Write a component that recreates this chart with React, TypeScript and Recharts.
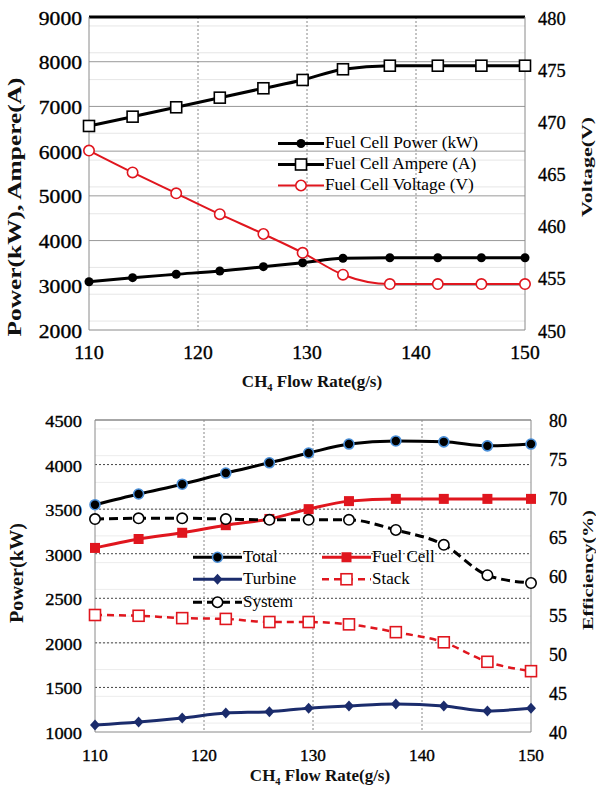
import React from 'react';
import {
  ComposedChart,
  Line,
  XAxis,
  YAxis,
  CartesianGrid,
  ReferenceLine,
  Legend,
} from 'recharts';

// CH4 flow rate (g/s) – shared x values
const flowRates = [110, 114, 118, 122, 126, 129.6, 133.3, 137.6, 142, 146, 150];

// top chart
const fcPower = [3080, 3170, 3246, 3320, 3416, 3505, 3604, 3617, 3617, 3617, 3617];
const fcAmpere = [6563, 6771, 6981, 7196, 7406, 7592, 7831, 7911, 7911, 7911, 7911];
const fcVoltage = [467.2, 465.1, 463.1, 461.1, 459.2, 457.4, 455.3, 454.4, 454.4, 454.4, 454.4];

// bottom chart
const totalPower = [3550, 3670, 3780, 3905, 4020, 4130, 4230, 4265, 4255, 4210, 4230];
const fuelCellPower = [3065, 3165, 3235, 3320, 3390, 3500, 3590, 3615, 3615, 3615, 3615];
const turbinePower = [1078, 1112, 1157, 1213, 1228, 1267, 1292, 1314, 1292, 1236, 1267];
const systemEff = [67.3, 67.4, 67.4, 67.3, 67.2, 67.2, 67.2, 65.9, 64.0, 60.1, 59.1];
const stackEff = [55.0, 54.9, 54.6, 54.5, 54.1, 54.1, 53.8, 52.8, 51.5, 49.0, 47.8];

const xTicks = [110, 120, 130, 140, 150];
const topLeftTicks = [2000, 3000, 4000, 5000, 6000, 7000, 8000, 9000];
const topRightTicks = [450, 455, 460, 465, 470, 475, 480];
const botLeftTicks = [1000, 1500, 2000, 2500, 3000, 3500, 4000, 4500];
const botRightTicks = [40, 45, 50, 55, 60, 65, 70, 75, 80];

const topData = flowRates.map((x, i) => ({
  x,
  power: fcPower[i],
  ampere: fcAmpere[i],
  voltage: fcVoltage[i],
}));

const botData = flowRates.map((x, i) => ({
  x,
  total: totalPower[i],
  fuelCell: fuelCellPower[i],
  turbine: turbinePower[i],
  system: systemEff[i],
  stack: stackEff[i],
}));

const RED = '#e0161e';
const NAVY = '#1b2c6c';
const SERIF = 'Liberation Serif, DejaVu Serif, serif';

type MarkerKind = 'dot' | 'square' | 'ring' | 'fsquare' | 'diamond' | 'bluedot';

const Marker = ({ kind, cx, cy, color }: { kind: MarkerKind; cx: number; cy: number; color: string }) => {
  switch (kind) {
    case 'dot':
      return <circle cx={cx} cy={cy} r={4.5} fill={color} />;
    case 'bluedot':
      return <circle cx={cx} cy={cy} r={5} fill="#000" stroke="#4a8fd8" strokeWidth={1.6} />;
    case 'square':
      return <rect x={cx - 5.5} y={cy - 5.5} width={11} height={11} fill="#fff" stroke={color} strokeWidth={1.6} />;
    case 'fsquare':
      return <rect x={cx - 5} y={cy - 5} width={10} height={10} fill={color} />;
    case 'ring':
      return <circle cx={cx} cy={cy} r={5.2} fill="#fff" stroke={color} strokeWidth={1.6} />;
    case 'diamond':
      return <path d={`M${cx},${cy - 5.5}L${cx + 5},${cy}L${cx},${cy + 5.5}L${cx - 5},${cy}Z`} fill={color} />;
  }
  return null;
};

const dotFn = (kind: MarkerKind, color: string) => (p: any) => (
  <Marker key={`m-${p.index}`} kind={kind} cx={p.cx} cy={p.cy} color={color} />
);

type Series = {
  key: string;
  name: string;
  color: string;
  width: number;
  dash?: string;
  marker: MarkerKind;
  axis: 'left' | 'right';
};

const topSeries: Series[] = [
  { key: 'power', name: 'Fuel Cell Power (kW)', color: '#000', width: 3, marker: 'dot', axis: 'left' },
  { key: 'ampere', name: 'Fuel Cell Ampere (A)', color: '#000', width: 3, marker: 'square', axis: 'left' },
  { key: 'voltage', name: 'Fuel Cell Voltage (V)', color: RED, width: 2, marker: 'ring', axis: 'right' },
];

// legend order (two columns): Total, Fuel Cell / Turbine, Stack / System
const botSeries: Series[] = [
  { key: 'total', name: 'Total', color: '#000', width: 3, marker: 'bluedot', axis: 'left' },
  { key: 'fuelCell', name: 'Fuel Cell', color: RED, width: 3, marker: 'fsquare', axis: 'left' },
  { key: 'turbine', name: 'Turbine', color: NAVY, width: 3, marker: 'diamond', axis: 'left' },
  { key: 'stack', name: 'Stack', color: RED, width: 2.5, dash: '7 5', marker: 'square', axis: 'right' },
  { key: 'system', name: 'System', color: '#000', width: 3, dash: '9 5', marker: 'ring', axis: 'right' },
];

const makeTick = (anchor: 'start' | 'end' | 'middle', size: number, digitW: number, dx: number, dy: number) =>
  (p: any) => {
    const s = String(p.payload.value);
    return (
      <text
        x={p.x + dx}
        y={p.y + dy}
        textAnchor={anchor}
        dominantBaseline="central"
        fontFamily={SERIF}
        fontSize={size}
        fill="#000"
        stroke="#000"
        strokeWidth={0.35}
        textLength={s.length * digitW}
        lengthAdjust="spacingAndGlyphs"
      >
        {s}
      </text>
    );
  };

const LegendBox = ({ series, cols, rowH, lineW, fontSize }: { series: Series[]; cols: number; rowH: number; lineW: number; fontSize: number }) => (
  <div
    style={{
      display: 'grid',
      gridTemplateColumns: `repeat(${cols}, auto)`,
      justifyContent: 'start',
      fontFamily: SERIF,
      fontSize,
      color: '#000',
    }}
  >
    {series.map((s) => (
      <div key={s.key} style={{ display: 'flex', alignItems: 'center', height: rowH, width: cols > 1 ? 129 : undefined }}>
        <svg width={lineW} height={rowH} style={{ display: 'block' }}>
          <line x1={0} x2={lineW} y1={rowH / 2} y2={rowH / 2} stroke={s.color} strokeWidth={s.width} strokeDasharray={s.dash} />
          <Marker kind={s.marker} cx={lineW / 2} cy={rowH / 2} color={s.color} />
        </svg>
        <span style={{ marginLeft: 1, whiteSpace: 'nowrap' }}>{s.name}</span>
      </div>
    ))}
  </div>
);

const FlowLabel = ({ cx, y }: { cx: number; y: number }) => (
  <text x={cx} y={y} textAnchor="middle" fontFamily={SERIF} fontWeight="bold" fontSize={17} fill="#111">
    CH<tspan fontSize={10.5} dy={4}>4</tspan>
    <tspan dy={-4}> Flow Rate(g/s)</tspan>
  </text>
);

const VTitle = ({ x, y, len, text, size = 18 }: { x: number; y: number; len: number; text: string; size?: number }) => (
  <text
    transform={`translate(${x},${y}) rotate(-90)`}
    textAnchor="middle"
    dominantBaseline="central"
    fontFamily={SERIF}
    fontWeight="bold"
    fontSize={size}
    fill="#111"
    textLength={len}
    lengthAdjust="spacingAndGlyphs"
  >
    {text}
  </text>
);

const minor = (lo: number, hi: number, step: number) => {
  const out: number[] = [];
  for (let v = lo; v <= hi; v += step) out.push(v);
  return out;
};

const App: React.FC = () => {
  return (
    <div style={{ position: 'absolute', left: 0, top: 0, width: 596, height: 798, background: '#fff', overflow: 'hidden' }}>
      {/* top chart */}
      <div style={{ position: 'absolute', left: 0, top: 0 }}>
        <ComposedChart width={596} height={410} data={topData} margin={{ top: 17, right: 0, bottom: 0, left: 0 }}>
          <CartesianGrid yAxisId="left" vertical={false} horizontalValues={minor(2200, 8800, 200)} stroke="#e6e6e6" />
          <CartesianGrid yAxisId="left" vertical={false} horizontalValues={[3000, 4000, 5000, 6000, 7000, 8000]} stroke="#9a9a9a" />
          <CartesianGrid yAxisId="left" horizontal={false} verticalValues={[120, 130, 140]} stroke="#888" strokeDasharray="2 2" />
          <XAxis
            dataKey="x"
            type="number"
            domain={[110, 150]}
            ticks={xTicks}
            height={80}
            tickLine={false}
            axisLine={{ stroke: '#8a8a8a' }}
            tick={makeTick('middle', 19, 9.8, 0, 14)}
          />
          <YAxis
            yAxisId="left"
            domain={[2000, 9000]}
            ticks={topLeftTicks}
            width={89}
            tickLine={false}
            axisLine={{ stroke: '#8a8a8a' }}
            tick={makeTick('end', 19, 10.8, 1, 1)}
          />
          <YAxis
            yAxisId="right"
            orientation="right"
            domain={[450, 480]}
            ticks={topRightTicks}
            width={71}
            tickLine={false}
            axisLine={{ stroke: '#8a8a8a' }}
            tick={makeTick('start', 19, 9.2, 5, 1)}
          />
          <ReferenceLine yAxisId="left" y={9000} stroke="#000" strokeWidth={3} />
          {topSeries.map((s) => (
            <Line
              key={s.key}
              yAxisId={s.axis}
              dataKey={s.key}
              name={s.name}
              type="monotone"
              stroke={s.color}
              strokeWidth={s.width}
              strokeDasharray={s.dash}
              dot={dotFn(s.marker, s.color)}
              activeDot={false}
              isAnimationActive={false}
            />
          ))}
          <Legend
            layout="vertical"
            align="center"
            verticalAlign="middle"
            wrapperStyle={{ left: 278, top: 132.5, width: 230 }}
            content={() => <LegendBox series={topSeries} cols={1} rowH={21} lineW={46} fontSize={17.3} />}
          />
        </ComposedChart>
      </div>

      {/* bottom chart */}
      <div style={{ position: 'absolute', left: 0, top: 410 }}>
        <ComposedChart width={596} height={388} data={botData} margin={{ top: 10, right: 0, bottom: 0, left: 0 }}>
          <CartesianGrid yAxisId="left" vertical={false} horizontalValues={minor(1100, 4400, 100)} stroke="#ececec" />
          <CartesianGrid yAxisId="left" vertical={false} horizontalValues={[1500, 2000, 2500, 3000, 3500, 4000]} stroke="#444" strokeDasharray="2 2" />
          <CartesianGrid yAxisId="left" horizontal={false} verticalValues={[120, 130, 140]} stroke="#888" strokeDasharray="2 2" />
          <XAxis
            dataKey="x"
            type="number"
            domain={[110, 150]}
            ticks={xTicks}
            height={66}
            tickLine={false}
            axisLine={{ stroke: '#8a8a8a' }}
            tick={makeTick('middle', 17, 8.6, 0, 15)}
          />
          <YAxis
            yAxisId="left"
            domain={[1000, 4500]}
            ticks={botLeftTicks}
            width={95}
            tickLine={false}
            axisLine={{ stroke: '#8a8a8a' }}
            tick={makeTick('end', 17.5, 9.2, -5, 1)}
          />
          <YAxis
            yAxisId="right"
            orientation="right"
            domain={[40, 80]}
            ticks={botRightTicks}
            width={65}
            tickLine={false}
            axisLine={{ stroke: '#8a8a8a' }}
            tick={makeTick('start', 18, 9, 10, 1)}
          />
          <ReferenceLine yAxisId="left" y={4500} stroke="#8a8a8a" strokeWidth={1.5} />
          {botSeries.map((s) => (
            <Line
              key={s.key}
              yAxisId={s.axis}
              dataKey={s.key}
              name={s.name}
              type="monotone"
              stroke={s.color}
              strokeWidth={s.width}
              strokeDasharray={s.dash}
              dot={dotFn(s.marker, s.color)}
              activeDot={false}
              isAnimationActive={false}
            />
          ))}
          <Legend
            layout="vertical"
            align="center"
            verticalAlign="middle"
            wrapperStyle={{ left: 193, top: 135.5, width: 260 }}
            content={() => <LegendBox series={botSeries} cols={2} rowH={22.5} lineW={49} fontSize={17} />}
          />
        </ComposedChart>
      </div>

      {/* axis titles */}
      <svg width={596} height={798} style={{ position: 'absolute', left: 0, top: 0, pointerEvents: 'none' }}>
        <VTitle x={15} y={207} len={259} text="Power(kW), Ampere(A)" />
        <VTitle x={587} y={167} len={100} text="Voltage(V)" size={15} />
        <FlowLabel cx={312} y={387} />
        <VTitle x={17} y={573} len={100} text="Power(kW)" />
        <VTitle x={588} y={570} len={120} text="Efficiency(%)" size={15} />
        <FlowLabel cx={320} y={781} />
      </svg>
    </div>
  );
};

export default App;
